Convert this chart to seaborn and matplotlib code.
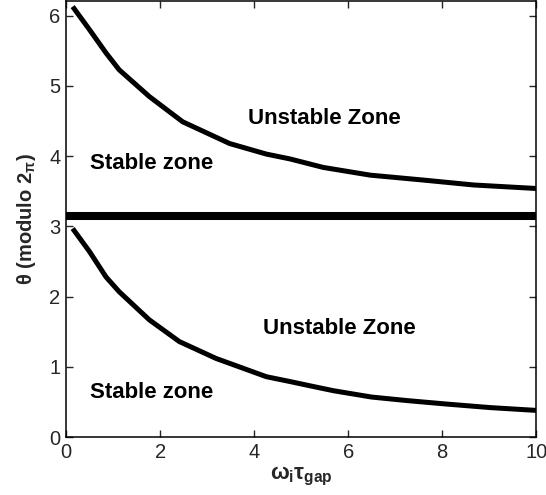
import numpy as np
import pandas as pd
import matplotlib
matplotlib.use("Agg")
import matplotlib.pyplot as plt
import seaborn as sns

# Values
x_lower = [0.14, 0.50, 0.85, 1.13, 1.77, 2.41, 3.19, 4.26, 4.77, 5.19, 5.69, 6.50, 7.25, 8.10, 9.02, 10.0]
y_lower = [2.97, 2.64, 2.28, 2.07, 1.67, 1.36, 1.12, 0.86, 0.79, 0.73, 0.66, 0.57, 0.52, 0.47, 0.42, 0.38]
x_upper = [0.14, 0.50, 0.85, 1.13, 1.77, 2.48, 3.48, 4.26, 4.77, 5.47, 6.47, 7.60, 8.67, 10.0]
y_upper = [6.13, 5.80, 5.47, 5.23, 4.85, 4.49, 4.18, 4.03, 3.96, 3.84, 3.73, 3.66, 3.59, 3.54]
boundary = np.pi

x_ticks = [0, 2, 4, 6, 8, 10]
y_ticks = [0, 1, 2, 3, 4, 5, 6]

sns.set_style("ticks")
plt.rcParams["font.family"] = ["Liberation Sans", "DejaVu Sans"]
plt.rcParams["mathtext.fontset"] = "custom"
plt.rcParams["mathtext.rm"] = "Liberation Sans:bold"
plt.rcParams["mathtext.it"] = "Liberation Sans:bold"
plt.rcParams["mathtext.bf"] = "Liberation Sans:bold"

fig = plt.figure(figsize=(5.46, 4.95), dpi=100)
ax = fig.add_axes([0.121, 0.117, 0.861, 0.881])

lower = pd.DataFrame({"x": x_lower, "y": y_lower})
upper = pd.DataFrame({"x": x_upper, "y": y_upper})
sns.lineplot(data=lower, x="x", y="y", ax=ax, color="black", linewidth=3.6,
             sort=False, solid_joinstyle="round", solid_capstyle="butt")
sns.lineplot(data=upper, x="x", y="y", ax=ax, color="black", linewidth=3.6,
             sort=False, solid_joinstyle="round", solid_capstyle="butt")
ax.axhline(boundary, color="black", linewidth=5.8)

# zone labels
lab = dict(fontsize=16, fontweight="bold", color="black", va="center")
ax.text(0.5, 3.9, "Stable zone", **lab)
ax.text(3.87, 4.54, "Unstable Zone", **lab)
ax.text(0.5, 0.64, "Stable zone", **lab)
ax.text(4.19, 1.55, "Unstable Zone", **lab)

ax.set_xlim(0, 10)
ax.set_ylim(0, 6.21)
ax.set_xticks(x_ticks)
ax.set_yticks(y_ticks)
ax.tick_params(direction="in", top=True, right=True, length=5, width=1,
               labelsize=14.5, pad=4)
for s in ax.spines.values():
    s.set_linewidth(1.1)
    s.set_color("black")

ax.set_xlabel(r"$\omega_i\tau_{gap}$", fontsize=16, labelpad=2)
ax.set_ylabel(r"θ (modulo 2$_{\pi}$)", fontsize=14.5, fontweight="bold", labelpad=8)

fig.savefig("out.png", dpi=100)
